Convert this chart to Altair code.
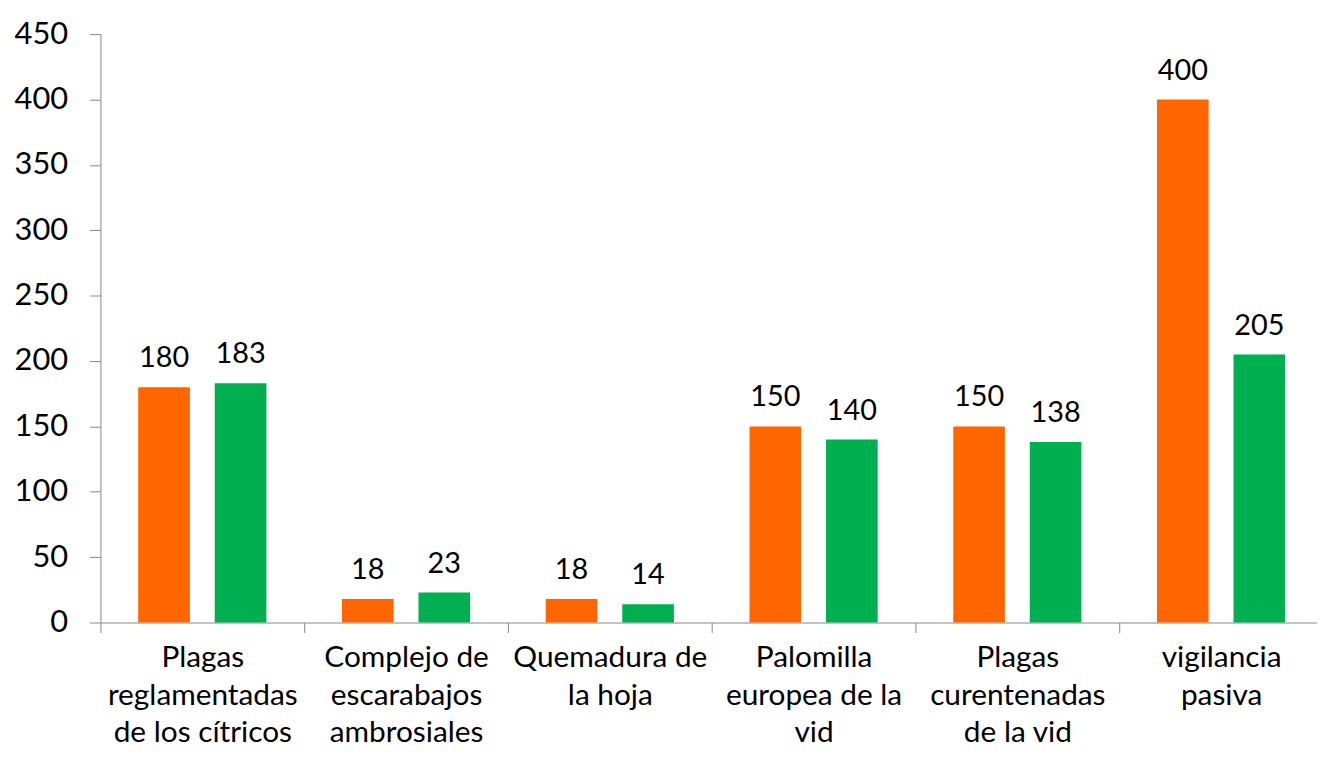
import altair as alt
import pandas as pd

categories = [
    "Plagas\nreglamentadas\nde los cítricos",
    "Complejo de\nescarabajos\nambrosiales",
    "Quemadura de\nla hoja",
    "Palomilla\neuropea de la\nvid",
    "Plagas\ncurentenadas\nde la vid",
    "vigilancia\npasiva",
]
series_names = ["Serie 1", "Serie 2"]
serie1 = [180, 18, 18, 150, 150, 400]
serie2 = [183, 23, 14, 140, 138, 205]
colors = ["#FF6600", "#00B050"]
y_ticks = [0, 50, 100, 150, 200, 250, 300, 350, 400, 450]

rows = []
for i, c in enumerate(categories):
    rows.append({"cat": c, "series": series_names[0], "value": serie1[i]})
    rows.append({"cat": c, "series": series_names[1], "value": serie2[i]})
df = pd.DataFrame(rows)

FONT = "Lato"
AXIS_GRAY = "#878787"

x = alt.X(
    "cat:N",
    sort=categories,
    scale=alt.Scale(paddingInner=0, paddingOuter=0),
    axis=alt.Axis(
        title=None,
        labelAngle=0,
        labelExpr="split(datum.label, '\\n')",
        labelFont=FONT,
        labelFontSize=30,
        labelLineHeight=38,
        labelColor="#000000",
        labelPadding=10,
        labelBaseline="top",
        labelLimit=0,
        tickBand="extent",
        tickSize=10,
        tickColor=AXIS_GRAY,
        domainColor=AXIS_GRAY,
        labelOverlap=False,
    ),
)
xoff = alt.XOffset(
    "series:N",
    sort=series_names,
    scale=alt.Scale(paddingInner=0.325, paddingOuter=0.494),
)
y = alt.Y(
    "value:Q",
    scale=alt.Scale(domain=[0, 450], nice=False),
    axis=alt.Axis(
        title=None,
        values=y_ticks,
        grid=False,
        labelFont=FONT,
        labelFontSize=31,
        labelColor="#000000",
        labelPadding=22,
        tickSize=11,
        tickColor=AXIS_GRAY,
        domainColor=AXIS_GRAY,
    ),
)
color = alt.Color(
    "series:N",
    sort=series_names,
    scale=alt.Scale(domain=series_names, range=colors),
    legend=None,
)

base = alt.Chart(df)
bars = base.mark_bar().encode(x=x, xOffset=xoff, y=y, color=color)
labels = base.mark_text(
    font=FONT, fontSize=29, color="#000000", baseline="alphabetic", dy=-20
).encode(x=x, xOffset=xoff, y=y, text="value:Q")

chart = (
    alt.layer(bars, labels)
    .properties(
        width=1230,
        height=592,
        autosize=alt.AutoSizeParams(type="none"),
        padding={"left": 93, "top": 24, "right": -6, "bottom": 126},
        background="#FFFFFF",
    )
    .configure_view(stroke=None)
)

chart.save("out.html", embed_options={"renderer": "svg", "actions": False})
